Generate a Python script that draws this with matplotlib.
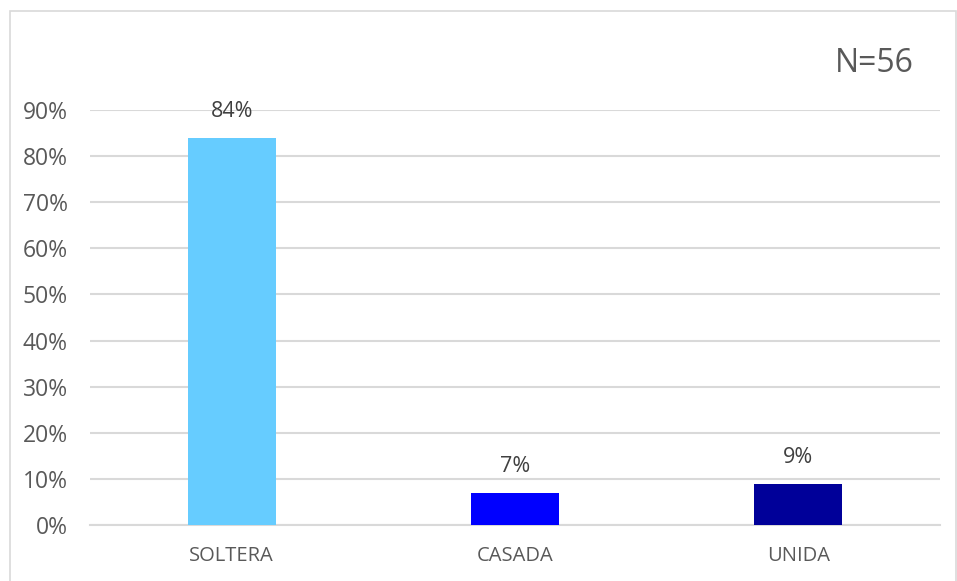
import matplotlib.pyplot as plt
from matplotlib.patches import Rectangle
from matplotlib.ticker import PercentFormatter

# Data
categories = ['SOLTERA', 'CASADA', 'UNIDA']
values = [0.84, 0.07, 0.09]
labels = ['84%', '7%', '9%']
colors = ['#66CCFF', '#0000FF', '#000099']
yticks = [0, 0.1, 0.2, 0.3, 0.4, 0.5, 0.6, 0.7, 0.8, 0.9]

plt.rcParams['font.family'] = ['Open Sans', 'DejaVu Sans']
text_color = '#595959'

fig = plt.figure(figsize=(9.57, 5.81), dpi=100)

# outer chart border
fig.patches.append(Rectangle((10 / 957, -0.01), 946 / 957, 1 - 11 / 581 + 0.01,
                             transform=fig.transFigure, fill=False,
                             edgecolor='#D9D9D9', linewidth=1.2))

ax = fig.add_axes([90 / 957, 1 - 525 / 581, 850 / 957, (525 - 110) / 581])

x = range(len(categories))
ax.bar(x, values, width=0.31, color=colors, zorder=3)

for xi, v, lab in zip(x, values, labels):
    ax.annotate(lab, (xi, v), xytext=(0, 11), textcoords='offset points',
                ha='center', va='bottom', fontsize=15.5, color='#404040')

ax.set_xlim(-0.5, 2.5)
ax.set_ylim(0, 0.9)
ax.set_yticks(yticks)
ax.yaxis.set_major_formatter(PercentFormatter(1.0, decimals=0))
ax.set_xticks(list(x))
ax.set_xticklabels(categories)

ax.grid(axis='y', color='#D9D9D9', linewidth=1.5, zorder=0)
for s in ['top', 'right', 'left']:
    ax.spines[s].set_visible(False)
ax.spines['bottom'].set_color('#D9D9D9')
ax.spines['bottom'].set_linewidth(1.5)
ax.tick_params(axis='y', length=0, labelsize=16.5, colors=text_color, pad=16)
ax.tick_params(axis='x', length=0, labelsize=14.5, colors=text_color, pad=15)

fig.text(874 / 957, 1 - 64 / 581, 'N=56', ha='center', va='center',
         fontsize=23, color=text_color)

fig.savefig('out.png', dpi=100)
